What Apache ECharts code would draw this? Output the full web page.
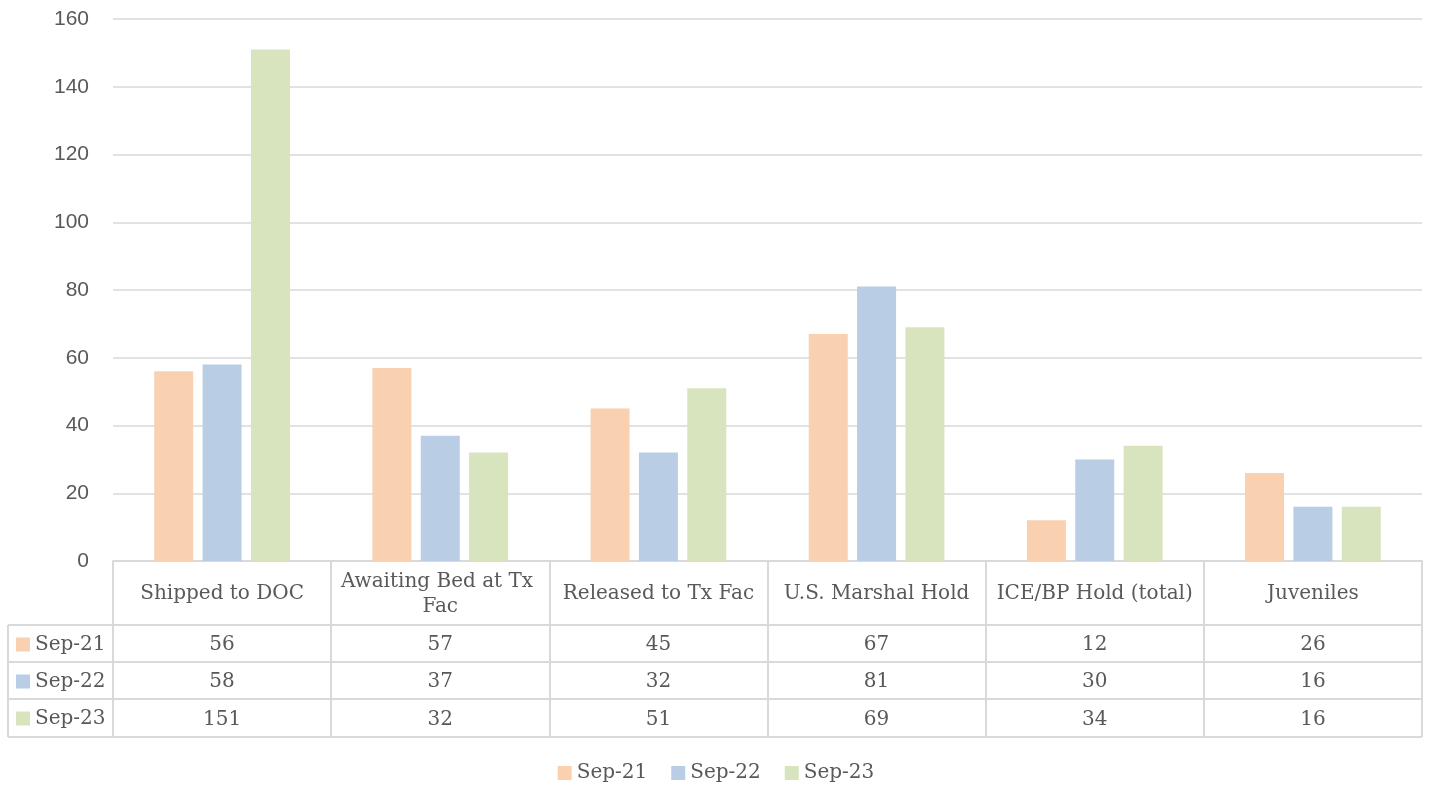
<!DOCTYPE html>
<html>
<head>
<meta charset="utf-8">
<style>
html,body{margin:0;padding:0;background:#fff;}
#main{width:1432px;height:787px;}
</style>
<script src="https://cdn.jsdelivr.net/npm/echarts@6/dist/echarts.min.js"></script>
</head>
<body>
<div id="main"></div>
<script>
const categories = ['Shipped to DOC', 'Awaiting Bed at Tx Fac', 'Released to Tx Fac', 'U.S. Marshal Hold', 'ICE/BP Hold (total)', 'Juveniles'];
const seriesNames = ['Sep-21', 'Sep-22', 'Sep-23'];
const sep21 = [56, 57, 45, 67, 12, 26];
const sep22 = [58, 37, 32, 81, 30, 16];
const sep23 = [151, 32, 51, 69, 34, 16];
const yTicks = [0, 20, 40, 60, 80, 100, 120, 140, 160];

const seriesData = [sep21, sep22, sep23];
const colors = ['#F9D0B0', '#B9CDE5', '#D8E4BD'];

// layout constants
const W = 1432, H = 787;
const gridLeft = 113, gridRight = 1422, gridTop = 19, gridBottom = 561;
const headerH = 64;
const rowH = [37, 37, 38];
const tableLeft = 8;
const lineColor = '#D9D9D9';
const textColor = '#595959';
const serif = 'DejaVu Serif';
const sans = 'Liberation Sans';
const fs = 20;

const rowTops = [];
let yy = gridBottom + headerH;
rowTops.push(yy);
rowH.forEach(h => { yy += h; rowTops.push(yy); });
const tableBottom = yy;

const xAxes = [{
  type: 'category',
  data: categories,
  gridIndex: 0,
  position: 'bottom',
  axisLine: { show: true, lineStyle: { color: lineColor, width: 2 } },
  axisTick: { show: true, interval: 0, length: tableBottom - gridBottom, lineStyle: { color: lineColor, width: 2 } },
  axisLabel: {
    interval: 0, margin: headerH / 2 + 1, verticalAlign: 'middle',
    fontFamily: serif, fontSize: fs, color: textColor,
    width: 205, overflow: 'break', lineHeight: 25
  }
}];
seriesData.forEach((vals, k) => {
  xAxes.push({
    type: 'category',
    data: categories,
    gridIndex: 0,
    position: 'bottom',
    axisLine: { show: false },
    axisTick: { show: false },
    axisLabel: {
      interval: 0,
      margin: (rowTops[k] + rowTops[k + 1]) / 2 - gridBottom + 1.5,
      verticalAlign: 'middle',
      fontFamily: serif, fontSize: fs, color: textColor,
      formatter: (v, i) => String(vals[i])
    }
  });
});

const graphics = [];
rowTops.forEach(y => {
  graphics.push({ type: 'line', shape: { x1: tableLeft, y1: y, x2: gridRight, y2: y }, style: { stroke: lineColor, lineWidth: 2 } });
});
graphics.push({ type: 'line', shape: { x1: tableLeft, y1: rowTops[0], x2: tableLeft, y2: tableBottom }, style: { stroke: lineColor, lineWidth: 2 } });

const chart = echarts.init(document.getElementById('main'));
chart.setOption({
  animation: false,
  backgroundColor: '#fff',
  color: colors,
  grid: { left: gridLeft, right: W - gridRight, top: gridTop, bottom: H - gridBottom, containLabel: false },
  xAxis: xAxes,
  yAxis: {
    type: 'value', min: yTicks[0], max: yTicks[yTicks.length - 1], interval: yTicks[1] - yTicks[0],
    axisLine: { show: false }, axisTick: { show: false },
    splitLine: { lineStyle: { color: lineColor, width: 1.5 } },
    axisLabel: { margin: 24, fontFamily: sans, fontSize: 21, color: textColor }
  },
  legend: [{
    data: seriesNames,
    orient: 'vertical',
    left: 11,
    top: (rowTops[0] + rowTops[1]) / 2 - 15,
    itemGap: 15,
    itemWidth: 14, itemHeight: 14,
    icon: 'rect',
    selectedMode: false,
    textStyle: { fontFamily: serif, fontSize: fs, color: textColor, lineHeight: 22 }
  }, {
    data: seriesNames,
    orient: 'horizontal',
    left: 'center',
    top: 757,
    itemGap: 24,
    itemWidth: 14, itemHeight: 14,
    icon: 'rect',
    selectedMode: false,
    textStyle: { fontFamily: serif, fontSize: fs, color: textColor, lineHeight: 22 }
  }],
  graphic: graphics,
  series: seriesNames.map((name, k) => ({
    name,
    type: 'bar',
    xAxisIndex: 0,
    data: seriesData[k],
    barWidth: 39,
    barGap: '24%',
    itemStyle: { color: colors[k] }
  }))
});
</script>
</body>
</html>
